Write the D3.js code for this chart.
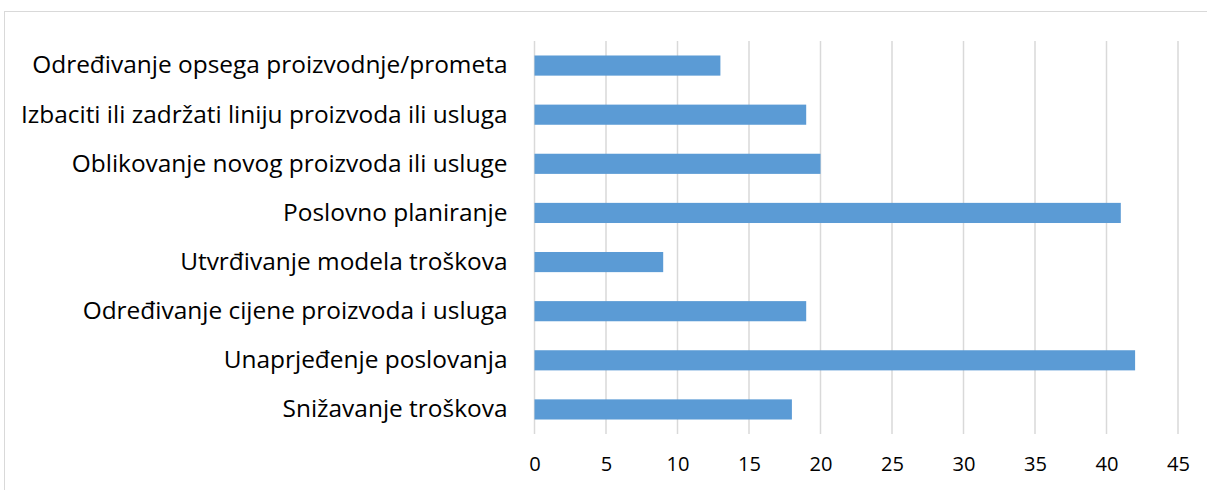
<!DOCTYPE html>
<html>
<head>
<meta charset="utf-8"/>
<script src="https://d3js.org/d3.v7.min.js"></script>
<style>
  body { margin: 0; background: #fff; }
  svg text { font-family: "Liberation Sans Narrow", "Open Sans", sans-serif; fill: #000; }
</style>
</head>
<body>
<div id="chart"></div>
<script>
var categories = [
  "Određivanje opsega proizvodnje/prometa",
  "Izbaciti ili zadržati liniju proizvoda ili usluga",
  "Oblikovanje novog proizvoda ili usluge",
  "Poslovno planiranje",
  "Utvrđivanje modela troškova",
  "Određivanje cijene proizvoda i usluga",
  "Unaprjeđenje poslovanja",
  "Snižavanje troškova"
];
var values = [13, 19, 20, 41, 9, 19, 42, 18];
var ticks = [0, 5, 10, 15, 20, 25, 30, 35, 40, 45];

var W = 1207, H = 490;
var margin = {top: 41, right: 29, bottom: 56, left: 534.5};
var width = W - margin.left - margin.right,
    height = H - margin.top - margin.bottom;

var svg = d3.select("#chart").append("svg").attr("width", W).attr("height", H);

// outer chart border
svg.append("rect").attr("x", 4.5).attr("y", 11.5).attr("width", W + 10).attr("height", H + 10)
  .style("fill", "none").style("stroke", "#d9d9d9").style("stroke-width", 1);

var x = d3.scaleLinear().domain([0, 45]).range([0, width]);
var y = d3.scaleBand().domain(categories).range([0, height]).paddingInner(0.59).paddingOuter(0.295);

var g = svg.append("g").attr("transform", "translate(" + margin.left + "," + margin.top + ")");

g.selectAll(".grid").data(ticks).enter().append("line")
  .attr("x1", function(d) { return x(d); }).attr("x2", function(d) { return x(d); })
  .attr("y1", 0).attr("y2", height)
  .style("stroke", "#d9d9d9").style("stroke-width", 1.5);

g.selectAll(".bar").data(values).enter().append("rect")
  .attr("x", x(0))
  .attr("y", function(d, i) { return y(categories[i]); })
  .attr("width", function(d) { return x(d) - x(0); })
  .attr("height", y.bandwidth())
  .style("fill", "#5b9bd5");

var xAxis = g.append("g").attr("transform", "translate(0," + height + ")")
  .call(d3.axisBottom(x).tickValues(ticks).tickSize(0).tickPadding(23));
xAxis.select(".domain").remove();

var yAxis = g.append("g").call(d3.axisLeft(y).tickSize(0).tickPadding(27));
yAxis.select(".domain").remove();

// size the labels so the longest one is as wide as in the picture
var ylab = yAxis.selectAll("text").style("font-size", "24px");
var longest = d3.max(ylab.nodes(), function(n) { return n.getComputedTextLength(); });
ylab.style("font-size", (24 * 487 / longest) + "px");

var xlab = xAxis.selectAll("text").style("font-size", "24px");
var w45 = xlab.filter(function(d) { return d === 45; }).node().getComputedTextLength();
xlab.style("font-size", Math.min(24, 24 * 23 / w45) + "px");
</script>
</body>
</html>
